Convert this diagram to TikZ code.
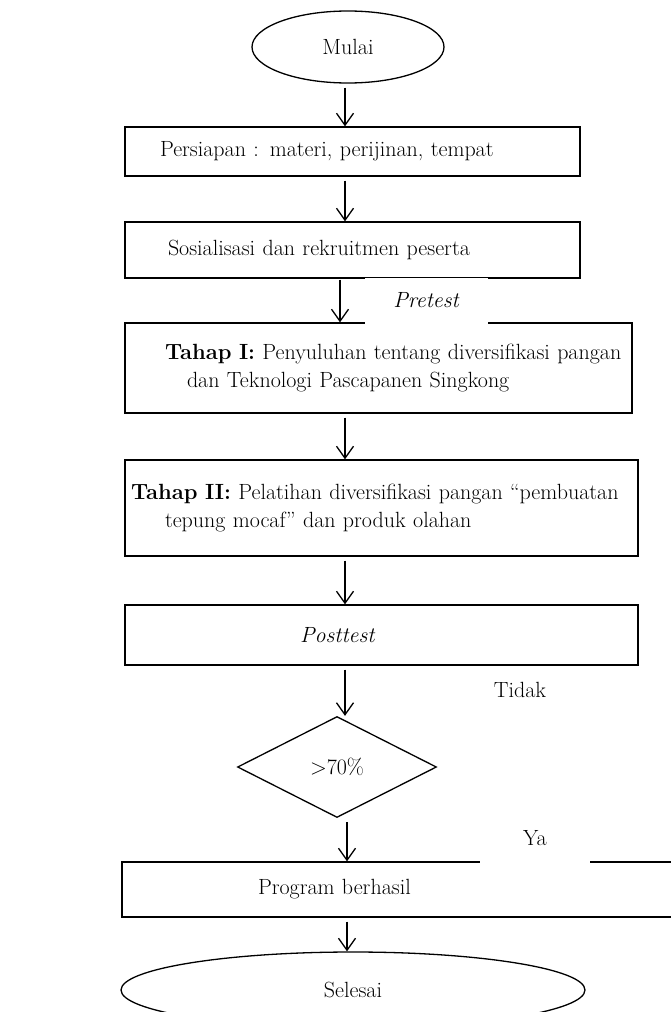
\documentclass[tikz,border=0pt]{standalone}
\usepackage{tikz}
\usetikzlibrary{shapes.geometric,arrows.meta}

\begin{document}
\begin{tikzpicture}
[
x=1pt, y=-1pt,
every node/.style={font=\fontsize{22}{28}\selectfont, inner sep=0pt},
stepbox/.style={draw, line width=1.3pt, rectangle, align=left},
endbox/.style={draw, line width=1.3pt, ellipse},
decision/.style={draw, line width=1.3pt, diamond},
gapnote/.style={fill=white, minimum height=46pt},
arr/.style={line width=1.3pt, -{Straight Barb[length=12pt,width=17pt,line width=1.3pt]}, shorten <=4pt}
]
\useasboundingbox (0,0) rectangle (670,1012);

% shapes
\node[endbox, minimum width=192pt, minimum height=72pt] (mulai) at (348,47) {Mulai};
\node[stepbox, minimum height=49pt, text width=385pt, inner xsep=35pt] (siap) at (352.5,151.5)
  {Persiapan : materi, perijinan, tempat};
\node[stepbox, minimum height=56pt, text width=369pt, inner xsep=43pt] (sosial) at (352.5,250)
  {Sosialisasi dan rekruitmen peserta};
\node[stepbox, minimum height=90pt, text width=495pt, inner xsep=6pt] (tahap1) at (378.5,368)
  {\hspace*{34pt}\textbf{Tahap I:} Penyuluhan tentang diversifikasi pangan\\
   \hspace*{56pt}dan Teknologi Pascapanen Singkong};
\node[stepbox, minimum height=96pt, text width=501pt, inner xsep=6pt] (tahap2) at (381.5,508)
  {\textbf{Tahap II:} Pelatihan diversifikasi pangan ``pembuatan\\
   \hspace*{34pt}tepung mocaf'' dan produk olahan};
\node[stepbox, minimum height=60pt, text width=163pt, inner xsep=175pt] (post) at (381.5,635)
  {\textit{Posttest}};
\node[decision, minimum width=199pt, minimum height=101pt] (cek) at (337,767) {>70\%};
\node[stepbox, minimum height=55pt, text width=278pt, inner xsep=136pt] (hasil) at (397,889.5)
  {Program berhasil};
\node[endbox, minimum width=464pt, minimum height=76pt] (selesai) at (353,990) {Selesai};

% labels
\node[gapnote, minimum width=123pt] (pre) at (426.5,300.5) {\textit{Pretest}};
\node (tidak) at (520,690) {Tidak};
\node[gapnote, minimum width=110pt, minimum height=50pt] (ya) at (535,838) {Ya};

% arrows
\coordinate (axis) at (345,0);
\draw[arr] (axis |- mulai.south) -- (axis |- siap.north);
\draw[arr] (axis |- siap.south) -- (axis |- sosial.north);
\draw[arr, shorten <=1pt] ([xshift=-5pt]axis |- sosial.south) -- ([xshift=-5pt]axis |- tahap1.north);
\draw[arr] (axis |- tahap1.south) -- (axis |- tahap2.north);
\draw[arr] (axis |- tahap2.south) -- (axis |- post.north);
\draw[arr] (axis |- post.south) -- (axis |- cek.north);
\draw[arr] ([xshift=2pt]axis |- cek.south) -- ([xshift=2pt]axis |- hasil.north);
\draw[arr] ([xshift=2pt]axis |- hasil.south) -- ([xshift=2pt]axis |- selesai.north);
\end{tikzpicture}
\end{document}
